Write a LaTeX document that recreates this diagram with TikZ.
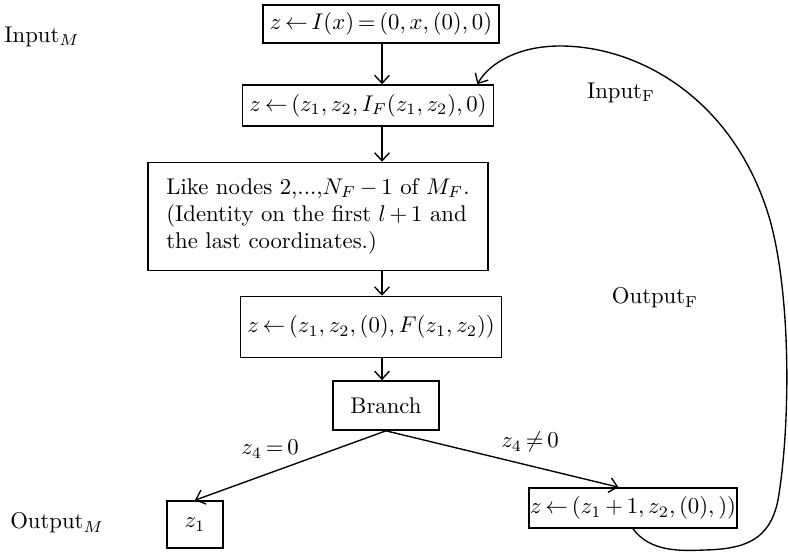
\documentclass[tikz,border=0pt]{standalone}
\usepackage{amsmath,amssymb}
\usepackage{tikz}
\usetikzlibrary{arrows.meta}
\usetikzlibrary{positioning}
\thickmuskip=3mu
\medmuskip=3mu

\tikzset{
  stepbox/.style={draw,line width=0.7pt,inner xsep=3pt,inner ysep=2pt},
  flow/.style={line width=0.6pt,-{Straight Barb[length=3.5pt,width=6.5pt]}},
  tag/.style={inner sep=0pt}
}

\begin{document}
\begin{tikzpicture}[x=0.44pt,y=-0.44pt]
\useasboundingbox (0,0) rectangle (788,553);
\coordinate (spine) at (382,0);
\node[stepbox,minimum width=103.8pt,minimum height=16.7pt] (init) at (381,24) {$z\leftarrow I(x)=(0,x,(0),0)$};
\node[stepbox,minimum width=108.5pt,minimum height=18pt] (load) at (368,105.5) {$z\leftarrow(z_1,z_2,I_F(z_1,z_2),0)$};
\node[stepbox,align=left,minimum width=149.6pt,minimum height=47.5pt] (body) at (318,216.5) {Like nodes 2,...,$N_F-1$ of $M_F$.\\(Identity on the first $l+1$ and\\the last coordinates.)};
\node[stepbox,minimum width=112.6pt,minimum height=26.8pt] (store) at (371,327) {$z\leftarrow(z_1,z_2,(0),F(z_1,z_2))$};
\node[stepbox,minimum width=46.6pt,minimum height=21.6pt] (branch) at (386,405.5) {Branch};
\node[stepbox,minimum width=24.6pt,minimum height=20.7pt] (outm) at (195,524.5) {$z_1$};
\node[stepbox,inner xsep=0.5pt,minimum width=88pt,minimum height=17.6pt] (incr) at (633,508) {$z\leftarrow(z_1+1,z_2,(0),))$};

\node[tag] (inM) at (42,37) {Input$_M$};
\node[tag] (outM) at (57,523) {Output$_M$};
\node[tag] (inF) at (621,93) {Input$_{\mathrm{F}}$};
\node[tag] (outF) at (655,298) {Output$_{\mathrm{F}}$};
\node[tag] (zero) at (270,449) {$z_4=0$};
\node[tag] (nonzero) at (530,442) {$z_4\neq0$};

\draw[flow] (spine |- init.south) -- (spine |- load.north);
\draw[flow] (spine |- load.south) -- (spine |- body.north);
\draw[flow] (spine |- body.south) -- (spine |- store.north);
\draw[flow] (spine |- store.south) -- (spine |- branch.north);
\draw[flow] (branch.south) -- (outm.north);
\draw[flow] (branch.south) -- (incr.125);
\draw[flow] (incr.south) .. controls (650,552) and (680,551) .. (705,550) .. controls (745,549) and (770,540) .. (778,500) .. controls (790,430) and (792,300) .. (770,220) .. controls (735,100) and (640,46) .. (560,46) .. controls (520,46) and (490,62) .. (load.11);
\end{tikzpicture}
\end{document}
